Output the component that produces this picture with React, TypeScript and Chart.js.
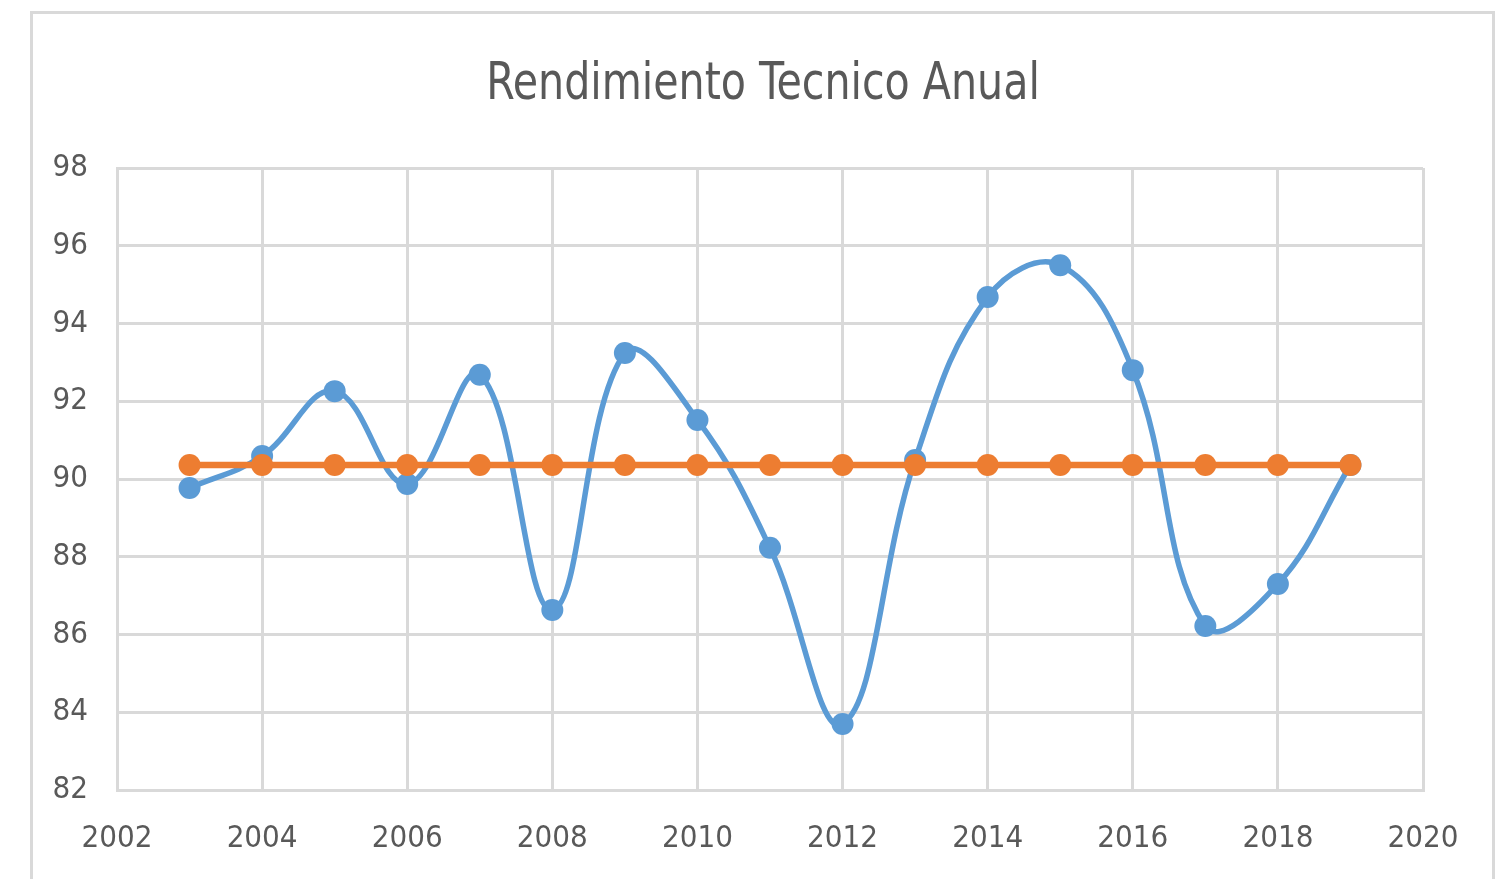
import { useEffect, useRef } from "react";
import { Chart, registerables } from "chart.js";

Chart.register(...registerables);

const TITLE = "Rendimiento Tecnico Anual";
const years = [2003, 2004, 2005, 2006, 2007, 2008, 2009, 2010, 2011, 2012, 2013, 2014, 2015, 2016, 2017, 2018, 2019];
const rendimiento = [89.77, 90.59, 92.26, 89.87, 92.68, 86.63, 93.24, 91.52, 88.23, 83.7, 90.49, 94.68, 95.5, 92.8, 86.22, 87.3, 90.36];
const promedio = [90.36, 90.36, 90.36, 90.36, 90.36, 90.36, 90.36, 90.36, 90.36, 90.36, 90.36, 90.36, 90.36, 90.36, 90.36, 90.36, 90.36];
const xMin = 2002;
const xMax = 2020;
const xStep = 2;
const yMin = 82;
const yMax = 98;
const yStep = 2;

const FONT = '"DejaVu Sans Condensed", "DejaVu Sans", sans-serif';
const TEXT = "#595959";
const GRID = "#d9d9d9";
const BLUE = "#5b9bd5";
const ORANGE = "#ed7d31";

const titlePlugin = {
  id: "customTitle",
  afterDraw(chart: any) {
    const ctx = chart.ctx;
    ctx.save();
    ctx.font = `52px ${FONT}`;
    ctx.fillStyle = TEXT;
    ctx.textAlign = "center";
    ctx.textBaseline = "middle";
    ctx.translate(763, 85);
    ctx.scale(0.88, 1);
    ctx.fillText(TITLE, 0, 0);
    ctx.restore();
  },
};

export default function App() {
  const ref = useRef<HTMLCanvasElement | null>(null);

  useEffect(() => {
    if (!ref.current) return;
    const toPts = (vals: number[]) => years.map((y, i) => ({ x: y, y: vals[i] }));
    const chart = new Chart(ref.current, {
      type: "line",
      data: {
        datasets: [
          {
            label: "Rendimiento",
            data: toPts(rendimiento),
            borderColor: BLUE,
            backgroundColor: BLUE,
            borderWidth: 5.5,
            pointRadius: 11,
            pointBorderWidth: 0,
            tension: 0.4,
            order: 2,
          },
          {
            label: "Promedio",
            data: toPts(promedio),
            borderColor: ORANGE,
            backgroundColor: ORANGE,
            borderWidth: 6.5,
            pointRadius: 11,
            pointBorderWidth: 0,
            tension: 0,
            order: 1,
          },
        ],
      },
      options: {
        responsive: false,
        animation: false,
        layout: { padding: { top: 168, right: 72, left: 0, bottom: 0 } },
        plugins: {
          legend: { display: false },
          title: { display: false },
          tooltip: { enabled: false },
        },
        scales: {
          x: {
            type: "linear",
            min: xMin,
            max: xMax,
            afterFit: (s: any) => {
              s.height = 89;
            },
            ticks: {
              stepSize: xStep,
              color: TEXT,
              font: { family: FONT, size: 31 },
              padding: 30,
              maxRotation: 0,
              callback: (v: any) => String(v),
            },
            grid: { color: GRID, lineWidth: 3, drawTicks: false },
            border: { display: true, color: GRID, width: 3 },
          },
          y: {
            min: yMin,
            max: yMax,
            afterFit: (s: any) => {
              s.width = 117;
            },
            ticks: {
              stepSize: yStep,
              color: TEXT,
              font: { family: FONT, size: 31 },
              padding: 29,
              callback: (v: any) => String(v),
            },
            grid: { color: GRID, lineWidth: 3, drawTicks: false },
            border: { display: true, color: GRID, width: 3 },
          },
        },
      },
      plugins: [titlePlugin],
    });
    return () => chart.destroy();
  }, []);

  return (
    <div style={{ position: "fixed", left: 0, top: 0, width: 1495, height: 879, background: "#fff", overflow: "hidden" }}>
      <div
        style={{
          position: "absolute",
          left: 30,
          top: 11,
          width: 1465,
          height: 900,
          border: `3px solid ${GRID}`,
          boxSizing: "border-box",
        }}
      />
      <canvas ref={ref} width={1495} height={879} style={{ position: "absolute", left: 0, top: 0 }} />
    </div>
  );
}
